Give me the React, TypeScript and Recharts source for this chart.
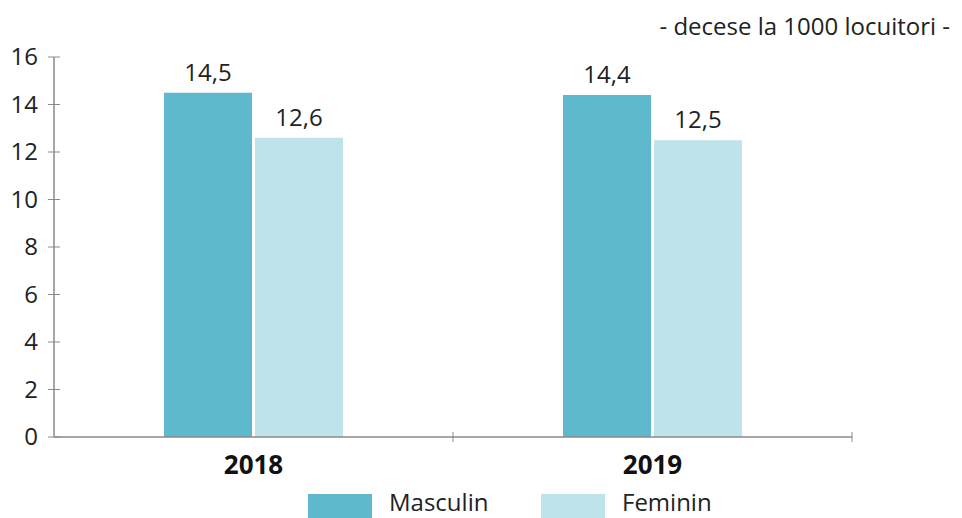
import { Bar, BarChart, LabelList, Legend, XAxis, YAxis } from "recharts";

const years = ["2018", "2019"];
const masculin = [14.5, 14.4];
const feminin = [12.6, 12.5];
const yTicks = [0, 2, 4, 6, 8, 10, 12, 14, 16];
const unitLabel = "- decese la 1000 locuitori -";

const data = years.map((y, i) => ({ year: y, masculin: masculin[i], feminin: feminin[i] }));

const W = 962;
const H = 518;
const M = { top: 57, right: 110, left: 0, bottom: 0 };
const Y_W = 54;
const PLOT_W = W - M.left - M.right - Y_W;
const BAND = PLOT_W / years.length;

const C_MASC = "#5fb9cc";
const C_FEM = "#bfe3ea";
const AXIS = "#8a8a8a";
const FONT = "'Open Sans', sans-serif";

const fmt = (v: number) => String(v).replace(".", ",");

function YTick(props: any) {
  const { x, y, payload } = props;
  const ax = x + 16;
  return (
    <g>
      <line x1={ax - 6} x2={ax + 6} y1={y} y2={y} stroke={AXIS} strokeWidth={1} />
      <text x={x} y={y} dy="0.35em" textAnchor="end" fontSize={24} fontFamily={FONT} fill="#222">
        {payload.value}
      </text>
    </g>
  );
}

function XTick(props: any) {
  const { x, y, payload } = props;
  const bx = x + BAND / 2;
  return (
    <g>
      <line x1={bx} x2={bx} y1={y - 5} y2={y + 5} stroke={AXIS} strokeWidth={1} />
      <text x={x} y={y + 37} textAnchor="middle" fontSize={26} fontWeight={700} fontFamily={FONT} fill="#111">
        {payload.value}
      </text>
    </g>
  );
}

function LegendBox() {
  const items = [
    { name: "Masculin", color: C_MASC, w: 233 },
    { name: "Feminin", color: C_FEM, w: 200 },
  ];
  return (
    <div style={{ height: 25, display: "flex", paddingLeft: 308, overflow: "visible", fontFamily: FONT }}>
      {items.map((it) => (
        <div key={it.name} style={{ display: "flex", alignItems: "flex-start", width: it.w, flex: "none" }}>
          <div style={{ width: 64, height: 32, background: it.color, marginTop: 1, flex: "none" }} />
          <span
            style={{
              marginLeft: 17,
              marginTop: -4,
              fontSize: 24,
              lineHeight: "26px",
              height: 26,
              color: "#222",
              whiteSpace: "nowrap",
            }}
          >
            {it.name}
          </span>
        </div>
      ))}
    </div>
  );
}

export default function App() {
  return (
    <div style={{ position: "absolute", left: 0, top: 0, width: W, height: H, background: "#fff", overflow: "hidden" }}>
      <div
        style={{
          position: "absolute",
          right: 12,
          top: 11,
          fontFamily: FONT,
          fontSize: 24,
          lineHeight: "30px",
          color: "#222",
        }}
      >
        {unitLabel}
      </div>
      <BarChart width={W} height={H} data={data} margin={M} barGap={3}>
        <XAxis
          dataKey="year"
          height={56}
          tickLine={false}
          tickSize={0}
          tickMargin={0}
          axisLine={{ stroke: AXIS, strokeWidth: 1.5 }}
          tick={<XTick />}
          interval={0}
        />
        <YAxis
          width={Y_W}
          domain={[0, 16]}
          ticks={yTicks}
          tickLine={false}
          tickSize={6}
          tickMargin={10}
          axisLine={{ stroke: AXIS, strokeWidth: 1.5 }}
          tick={<YTick />}
          interval={0}
        />
        <Legend verticalAlign="bottom" wrapperStyle={{ left: 0, width: W, height: 25 }} content={<LegendBox />} />
        <Bar dataKey="masculin" name="Masculin" fill={C_MASC} barSize={88} isAnimationActive={false}>
          <LabelList dataKey="masculin" position="top" offset={12} formatter={fmt} fontSize={24} fontFamily={FONT} fill="#222" />
        </Bar>
        <Bar dataKey="feminin" name="Feminin" fill={C_FEM} barSize={88} isAnimationActive={false}>
          <LabelList dataKey="feminin" position="top" offset={12} formatter={fmt} fontSize={24} fontFamily={FONT} fill="#222" />
        </Bar>
      </BarChart>
    </div>
  );
}
